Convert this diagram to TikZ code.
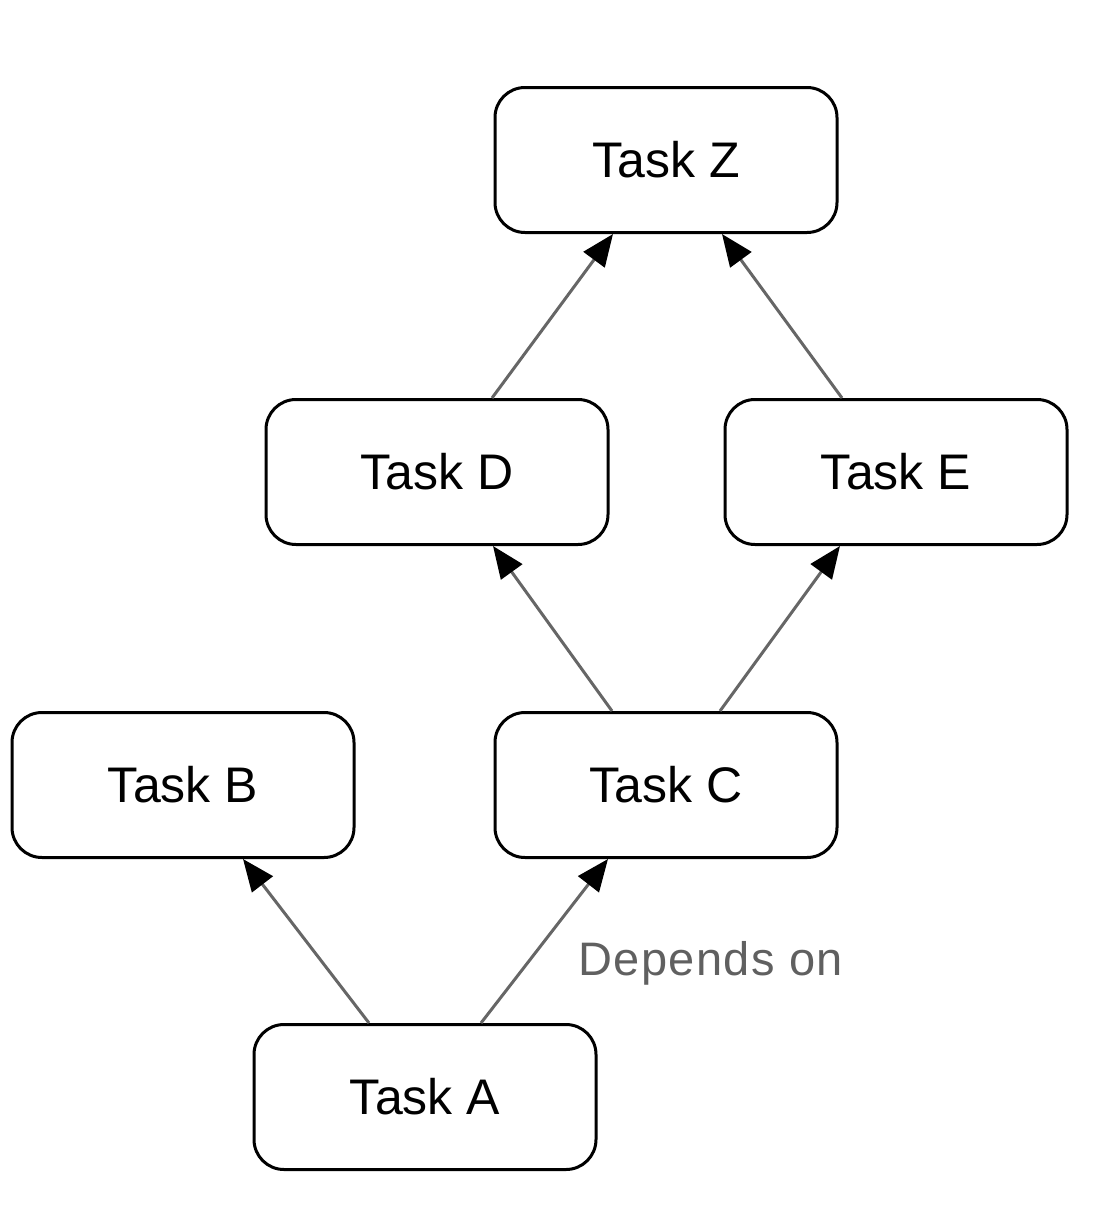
\documentclass[tikz,border=0pt]{standalone}
\usepackage{fontspec}
\setmainfont{Liberation Sans}
\newfontfamily\labelfont[LetterSpace=3]{Liberation Sans}
\usepackage{tikz}
\usetikzlibrary{shapes,arrows.meta}

\tikzset{
    task/.style={draw=black, line width=1.5pt, rounded corners=15pt, fill=white,
        minimum width=171pt, minimum height=72.5pt, inner sep=0pt,
        font=\fontsize{25}{30}\selectfont},
    dep/.style={draw={rgb,255:red,102;green,102;blue,102}, line width=1.5pt,
        -{Triangle[length=16pt,width=13pt,color=black]}}
}

\begin{document}
\begin{tikzpicture}[x=0.5pt,y=-0.5pt]
    \useasboundingbox (0,0) rectangle (1098,1210);

    % Task nodes
    \node [task] (taskz) at (666,160) {Task Z};
    \node [task] (taskd) at (437,472) {Task D};
    \node [task] (taske) at (896,472) {Task E};
    \node [task] (taskb) at (183,785) {Task B};
    \node [task] (taskc) at (666,785) {Task C};
    \node [task] (taska) at (425,1097) {Task A};

    %Straight Lines
    \draw [dep] ([xshift=-28pt]taska.north) -- ([xshift=30pt]taskb.south);
    \draw [dep] ([xshift=28pt]taska.north) -- ([xshift=-29pt]taskc.south);
    \draw [dep] ([xshift=-27pt]taskc.north) -- ([xshift=28pt]taskd.south);
    \draw [dep] ([xshift=27pt]taskc.north) -- ([xshift=-28pt]taske.south);
    \draw [dep] ([xshift=27.5pt]taskd.north) -- ([xshift=-26.5pt]taskz.south);
    \draw [dep] ([xshift=-27pt]taske.north) -- ([xshift=28pt]taskz.south);

    % Text Node
    \node [anchor=base west, inner sep=0pt, text={rgb,255:red,96;green,96;blue,96},
        font=\labelfont\fontsize{23.5}{28}\selectfont] (deplabel) at (578,975) {Depends on};

\end{tikzpicture}
\end{document}
